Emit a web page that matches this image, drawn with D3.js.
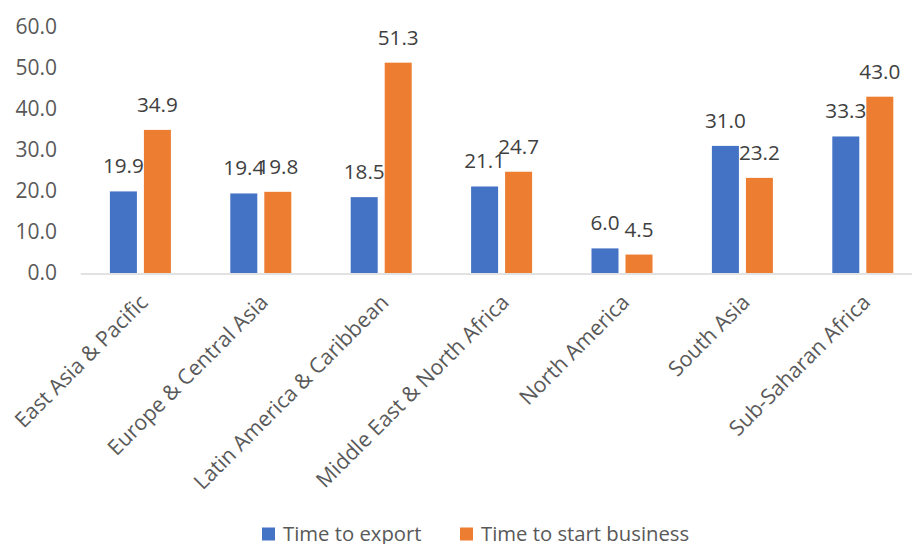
<!DOCTYPE html>
<html><head><meta charset="utf-8">
<script src="https://cdn.jsdelivr.net/npm/d3@7"></script>
<style>body{margin:0;background:#fff}svg{display:block}</style>
</head><body>
<svg id="c" width="912" height="544"></svg>
<script>
const categories = ["East Asia & Pacific","Europe & Central Asia","Latin America & Caribbean","Middle East & North Africa","North America","South Asia","Sub-Saharan Africa"];
const seriesNames = ["Time to export","Time to start business"];
const timeToExport = [19.9,19.4,18.5,21.1,6.0,31.0,33.3];
const timeToStart = [34.9,19.8,51.3,24.7,4.5,23.2,43.0];
const yTicks = [0,10,20,30,40,50,60];
const colors = ["#4472C4","#ED7D31"];

const svg = d3.select("#c");
const font = "'Open Sans', sans-serif";
const y = d3.scaleLinear().domain([0,60]).range([273,27]);
const x0 = d3.scaleBand().domain(categories).range([80.2,923]).padding(0);
const x1 = d3.scaleBand().domain(seriesNames).range([0,61]).paddingInner(0.206);
const data = categories.map((c,i)=>({cat:c, vals:[timeToExport[i], timeToStart[i]]}));

// y axis labels
const yAxis = d3.axisLeft(y).tickValues(yTicks).tickFormat(d3.format(".1f")).tickSize(0).tickPadding(0);
const gy = svg.append("g").attr("transform","translate(57,0)").call(yAxis);
gy.select(".domain").remove();
gy.selectAll("text").attr("font-family",font).attr("font-size",21).attr("fill","#595959");

// baseline
const xAxis = d3.axisBottom(x0).tickSize(0).tickFormat("");
const gx = svg.append("g").attr("transform","translate(0,273.5)").call(xAxis);
gx.select(".domain").attr("stroke","#d9d9d9").attr("stroke-width",1.5);

// bars
const groups = svg.selectAll("g.grp").data(data).enter().append("g").attr("class","grp")
  .attr("transform",d=>`translate(${x0(d.cat)+x0.bandwidth()/2-30.5},0)`);
groups.selectAll("rect").data(d=>d.vals.map((v,j)=>({s:seriesNames[j],v,j}))).enter().append("rect")
  .attr("x",d=>x1(d.s)).attr("width",x1.bandwidth())
  .attr("y",d=>y(d.v)).attr("height",d=>y(0)-y(d.v))
  .attr("fill",d=>colors[d.j]);
groups.selectAll("text").data(d=>d.vals.map((v,j)=>({s:seriesNames[j],v,j}))).enter().append("text")
  .attr("x",d=>x1(d.s)+x1.bandwidth()/2).attr("y",d=>y(d.v)-18)
  .attr("text-anchor","middle").attr("font-family",font).attr("font-size",20.7).attr("fill","#404040")
  .text(d=>d3.format(".1f")(d.v));

// category labels
svg.selectAll("text.cat").data(categories).enter().append("text").attr("class","cat")
  .attr("transform",d=>`translate(${x0(d)+x0.bandwidth()/2-2},293) rotate(-45)`)
  .attr("text-anchor","end").attr("dy","0.71em")
  .attr("font-family",font).attr("font-size",21.3).attr("fill","#595959").text(d=>d);

// legend
const leg = svg.append("g");
const legX = [262,460];
seriesNames.forEach((s,i)=>{
  leg.append("rect").attr("x",legX[i]).attr("y",527.5).attr("width",13).attr("height",13).attr("fill",colors[i]);
  leg.append("text").attr("x",legX[i]+21).attr("y",541).attr("font-family",font).attr("font-size",20.3).attr("fill","#595959").text(s);
});
</script>
</body></html>
